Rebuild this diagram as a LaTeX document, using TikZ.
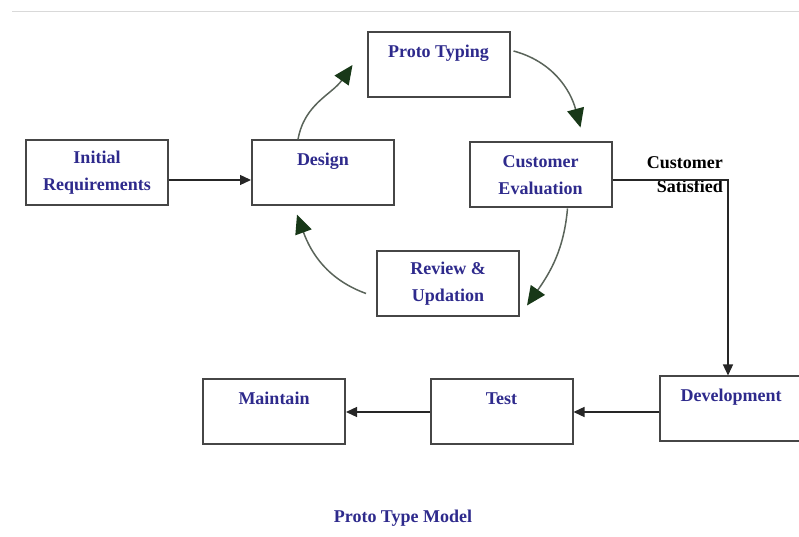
\documentclass[tikz,border=0pt]{standalone}
\usepackage{fontspec}
\setmainfont{Liberation Serif}
\usetikzlibrary{arrows.meta}
\definecolor{boxgray}{RGB}{70,70,70}
\definecolor{textblue}{RGB}{46,42,140}
\definecolor{loopgreen}{RGB}{24,56,24}
\definecolor{loopline}{RGB}{90,100,90}

\begin{document}
\begin{tikzpicture}[x=1pt, y=1pt,
    stagebox/.style = {draw=boxgray, line width=2pt, minimum width=142pt, minimum height=65pt,
                       inner sep=0pt, align=center, text=textblue,
                       font=\fontsize{18}{27}\selectfont\bfseries},
    flowarrow/.style = {draw=black!85, line width=1.3pt, -{Triangle[length=11pt,width=10pt]}},
    looparrow/.style = {draw=loopline, line width=1.5pt,
                        -{Triangle[length=19pt,width=17pt,color=loopgreen]}}]
        \useasboundingbox (0,0) rectangle (799,537);
        \draw[black!15, line width=1pt] (12,525) -- (799,525);
        % stages
        \node[stagebox] (init)   at (97,364)    {Initial\\Requirements};
        \node[stagebox] (design) at (323,364)   {Design\\~};
        \node[stagebox] (proto)  at (438.5,472) {Proto Typing\\~};
        \node[stagebox] (cust)   at (540.5,362) {Customer\\Evaluation};
        \node[stagebox] (review) at (448,253.5) {Review \&\\Updation};
        \node[stagebox] (dev)    at (731,128)   {Development\\~};
        \node[stagebox] (test)   at (501.5,125) {Test\\~};
        \node[stagebox] (maint)  at (274,125)   {Maintain\\~};
        \node[anchor=north east, inner sep=0pt, align=right,
              font=\fontsize{18}{24}\selectfont\bfseries] (satisfied) at (723,381) {Customer\\Satisfied};
        \node[text=textblue, font=\fontsize{18}{27}\selectfont\bfseries] (title) at (403,19) {Proto Type Model};
        % straight flow
        \draw[flowarrow] ([yshift=-7pt]init.east) -- ([yshift=-7pt]design.west);
        \draw[flowarrow] ([yshift=-5pt]cust.east) -| ([xshift=-3pt]dev.north);
        \draw[flowarrow] (test.east -| dev.west) -- (test.east);
        \draw[flowarrow] (test.west) -- (maint.east);
        % prototype loop
        \draw[looparrow] ([xshift=-25pt]design.north) to[out=80,in=-125] ([xshift=-14pt]proto.west);
        \draw[looparrow] ([xshift=3pt,yshift=14pt]proto.east) to[out=-15,in=105] ([xshift=40pt,yshift=14pt]cust.north);
        \draw[looparrow] ([xshift=27pt]cust.south) to[out=-95,in=55] ([xshift=7pt,yshift=-22pt]review.east);
        \draw[looparrow] ([xshift=-10pt,yshift=-10pt]review.west) to[out=160,in=-70] ([xshift=-26pt,yshift=-8pt]design.south);
      \end{tikzpicture}
\end{document}
